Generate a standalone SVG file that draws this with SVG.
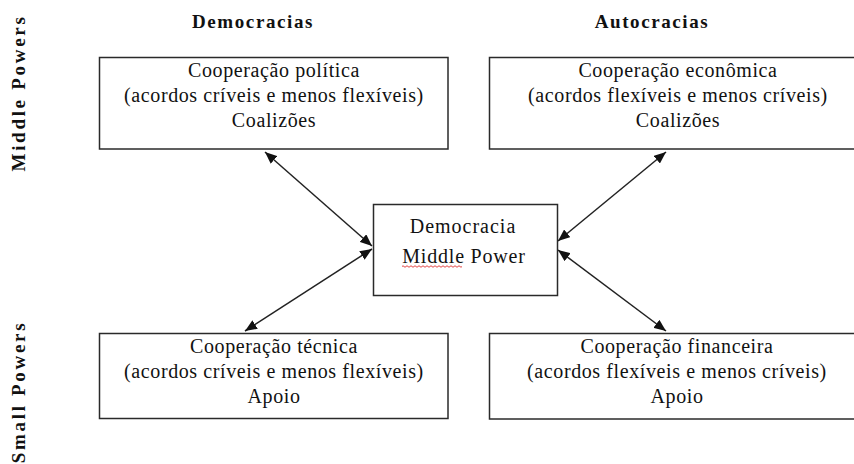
<svg xmlns="http://www.w3.org/2000/svg" width="854" height="464" viewBox="0 0 854 464">
<style>
.box{fill:#fff;stroke:#2a2a2a;stroke-width:1.5}
.t{font-family:"Liberation Serif","Times New Roman",serif;font-size:20px;fill:#111;text-anchor:middle;letter-spacing:0.6px}
.h{font-family:"Liberation Serif","Times New Roman",serif;font-size:19px;font-weight:bold;fill:#111;text-anchor:middle;letter-spacing:1.6px}
.v{font-family:"Liberation Serif","Times New Roman",serif;font-size:19px;font-weight:bold;fill:#111;text-anchor:middle;letter-spacing:2.7px}
.c{fill:none;stroke:#222;stroke-width:1.5;marker-start:url(#ah);marker-end:url(#ah)}
</style>
<defs>
<marker id="ah" viewBox="0 0 12 10" refX="12" refY="5" markerWidth="12" markerHeight="10" markerUnits="userSpaceOnUse" orient="auto-start-reverse">
<path d="M0,0 L12,5 L0,10 z" fill="#111"/>
</marker>
</defs>
<rect width="854" height="464" fill="#fff"/>

<g id="labels">
<text class="h" x="253" y="28">Democracias</text>
<text class="h" x="652" y="28">Autocracias</text>
<text class="v" transform="translate(25,93) rotate(-90)">Middle Powers</text>
<text class="v" transform="translate(25,392) rotate(-90)">Small Powers</text>
</g>

<g id="connectors">
<line class="c" x1="265" y1="152" x2="372" y2="246"/>
<line class="c" x1="372" y1="249" x2="245" y2="331"/>
<line class="c" x1="666" y1="152" x2="558" y2="241"/>
<line class="c" x1="558" y1="250" x2="666" y2="331"/>
</g>

<g id="node-politica">
<rect class="box" x="99.5" y="57.5" width="348.5" height="91.5"/>
<text class="t" x="274" y="77">Cooperação política</text>
<text class="t" x="274" y="102">(acordos críveis e menos flexíveis)</text>
<text class="t" x="274" y="127">Coalizões</text>
</g>

<g id="node-economica">
<rect class="box" x="489.5" y="57.5" width="380" height="91.5"/>
<text class="t" x="678" y="77">Cooperação econômica</text>
<text class="t" x="678" y="102">(acordos flexíveis e menos críveis)</text>
<text class="t" x="678" y="127">Coalizões</text>
</g>

<g id="node-centro">
<rect class="box" x="373.5" y="204.5" width="184" height="91"/>
<text class="t" x="463" y="233" style="letter-spacing:1px">Democracia</text>
<text class="t" x="464" y="263" style="letter-spacing:0.8px">Middle Power</text>
<path d="M402,266.5 q1,-1.5 2,0 t2,0 t2,0 t2,0 t2,0 t2,0 t2,0 t2,0 t2,0 t2,0 t2,0 t2,0 t2,0 t2,0 t2,0 t2,0 t2,0 t2,0 t2,0 t2,0 t2,0 t2,0 t2,0 t2,0 t2,0 t2,0 t2,0 t2,0 t2,0 t2,0" fill="none" stroke="#e03030" stroke-width="0.9"/>
</g>

<g id="node-tecnica">
<rect class="box" x="99.5" y="333.5" width="348.5" height="85"/>
<text class="t" x="274" y="353">Cooperação técnica</text>
<text class="t" x="274" y="378">(acordos críveis e menos flexíveis)</text>
<text class="t" x="274" y="403">Apoio</text>
</g>

<g id="node-financeira">
<rect class="box" x="489.5" y="333.5" width="380" height="85.5"/>
<text class="t" x="677" y="353">Cooperação financeira</text>
<text class="t" x="677" y="378">(acordos flexíveis e menos críveis)</text>
<text class="t" x="677" y="403">Apoio</text>
</g>
</svg>
